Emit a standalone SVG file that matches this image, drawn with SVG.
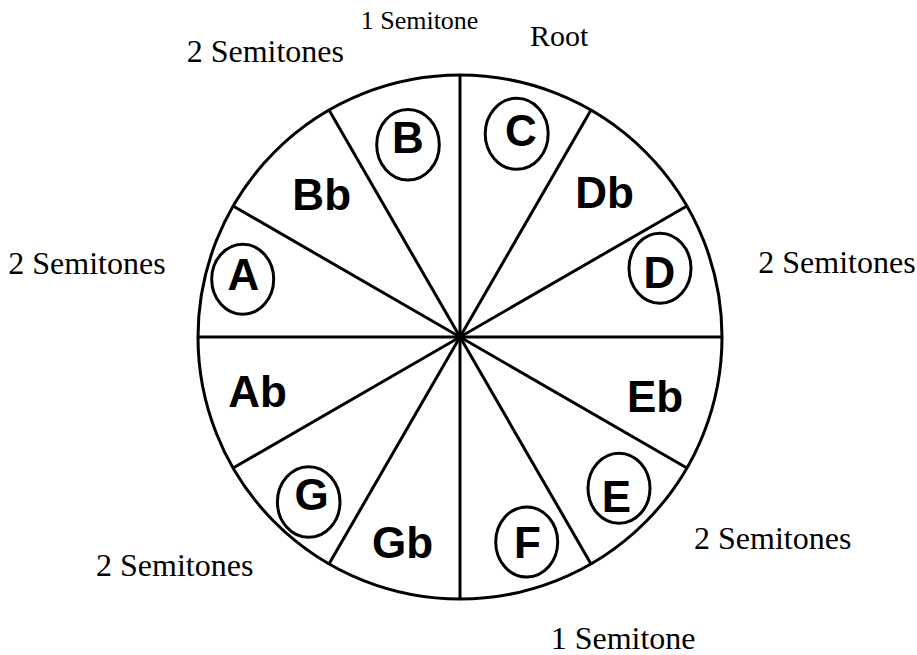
<svg xmlns="http://www.w3.org/2000/svg" width="917" height="655" viewBox="0 0 917 655">
<style>
.ln{stroke:#000;stroke-width:3;fill:none}
.el{stroke:#000;stroke-width:3;fill:none}
.nt{font-family:"Liberation Sans",Arial,sans-serif;font-weight:bold;font-size:44px;fill:#000;text-anchor:middle}
.lb{font-family:"Liberation Serif","Times New Roman",serif;font-size:32px;fill:#000}
</style>
<rect width="917" height="655" fill="#fff"/>
<g id="wheel">
<circle class="ln" cx="460" cy="337" r="262"/>
</g>
<g id="spokes">
<line class="ln" x1="460" y1="75" x2="460" y2="599"/>
<line class="ln" x1="198" y1="337" x2="722" y2="337"/>
<line class="ln" x1="329" y1="110.1" x2="591" y2="563.9"/>
<line class="ln" x1="591" y1="110.1" x2="329" y2="563.9"/>
<line class="ln" x1="233.1" y1="206" x2="686.9" y2="468"/>
<line class="ln" x1="686.9" y1="206" x2="233.1" y2="468"/>
</g>
<g id="note-C"><ellipse class="el" cx="516.7" cy="133.8" rx="31.5" ry="35.5"/><text class="nt" x="521" y="146">C</text></g>
<g id="note-Db"><text class="nt" x="604.5" y="208.3">Db</text></g>
<g id="note-D"><ellipse class="el" cx="660" cy="268.3" rx="31" ry="35"/><text class="nt" x="659.5" y="288">D</text></g>
<g id="note-Eb"><text class="nt" x="655" y="412">Eb</text></g>
<g id="note-E"><ellipse class="el" cx="619" cy="488.3" rx="31" ry="35"/><text class="nt" x="616.5" y="511.7">E</text></g>
<g id="note-F"><ellipse class="el" cx="526.7" cy="542" rx="31" ry="35"/><text class="nt" x="527.5" y="558.3">F</text></g>
<g id="note-Gb"><text class="nt" x="402.5" y="557.7">Gb</text></g>
<g id="note-G"><ellipse class="el" cx="308.7" cy="502" rx="31.3" ry="35.3"/><text class="nt" x="311.7" y="510">G</text></g>
<g id="note-Ab"><text class="nt" x="257.5" y="407">Ab</text></g>
<g id="note-A"><ellipse class="el" cx="242.7" cy="279.3" rx="31" ry="35"/><text class="nt" x="243.3" y="290">A</text></g>
<g id="note-Bb"><text class="nt" x="321.7" y="210">Bb</text></g>
<g id="note-B"><ellipse class="el" cx="408" cy="144.7" rx="31.3" ry="35.3"/><text class="nt" x="408" y="153.3">B</text></g>
<g id="labels">
<text class="lb" x="186.7" y="61.7">2 Semitones</text>
<text class="lb" x="360.7" y="29.3" style="font-size:26px">1 Semitone</text>
<text class="lb" x="530" y="46" style="font-size:30px">Root</text>
<text class="lb" x="8.3" y="274.3">2 Semitones</text>
<text class="lb" x="758.3" y="273.3">2 Semitones</text>
<text class="lb" x="694" y="549.3">2 Semitones</text>
<text class="lb" x="96" y="576">2 Semitones</text>
<text class="lb" x="550.7" y="649.3">1 Semitone</text>
</g>
</svg>
